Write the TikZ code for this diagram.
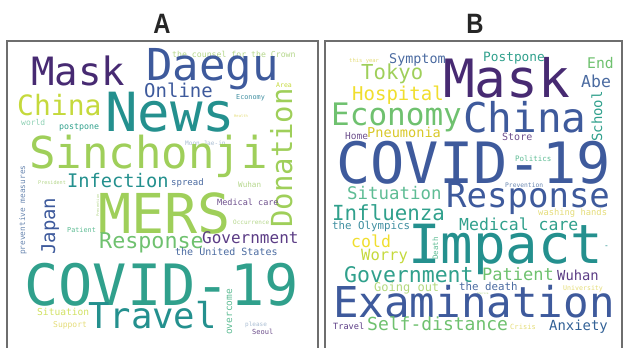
\documentclass[tikz,border=0pt]{standalone}
\usepackage{fontspec}
\setmainfont{Liberation Sans}
\newfontfamily\cloudfont{DejaVu Sans Mono}
\usetikzlibrary{positioning}

% viridis-like palette
\definecolor{vdark}{HTML}{472A72}
\definecolor{vpurple}{HTML}{5B3C85}
\definecolor{vlilac}{HTML}{6D4F8C}
\definecolor{vblue}{HTML}{3E5A9C}
\definecolor{vbluem}{HTML}{4A6AA0}
\definecolor{vbluel}{HTML}{6A87B0}
\definecolor{vpale}{HTML}{A8BCD2}
\definecolor{vtealb}{HTML}{3F8EA0}
\definecolor{vteal}{HTML}{24908E}
\definecolor{vtealg}{HTML}{30A08C}
\definecolor{vmint}{HTML}{5EBC94}
\definecolor{vgreen}{HTML}{6FC16F}
\definecolor{vgreenl}{HTML}{9FCF5A}
\definecolor{vsage}{HTML}{B4D68A}
\definecolor{vyg}{HTML}{C5D93C}
\definecolor{vyellow}{HTML}{F0DE2E}
\definecolor{vcream}{HTML}{E4DC78}
\definecolor{frame}{HTML}{6E6E6E}

\tikzset{
    word/.style={inner sep=0pt, anchor=base west,
        font=\cloudfont\fontsize{#1}{#1}\selectfont},
    up/.style={rotate=90},
    panel/.style={draw=frame, line width=1.2pt},
    title/.style={anchor=base, text=black!85, xscale=0.85,
        font=\bfseries\fontsize{28}{28}\selectfont}
}

\begin{document}
\begin{tikzpicture}[x=1pt, y=-1pt]
    \useasboundingbox (0,0) rectangle (624,348);

    % panels
    \draw[panel] (7,352) -- (7,41) -- (318,41) -- (318,352);
    \draw[panel] (325,352) -- (325,41) -- (622,41) -- (622,352);
    \node[title] (tA) at (162,33) {A};
    \node[title] (tB) at (475,33) {B};

    % ---- panel A ----
    \node[word=8.2, text=vsage]    (a-crown)   at (172,57)  {the counsel for the Crown};
    \node[word=39, text=vdark]     (a-mask)    at (31,85)   {Mask};
    \node[word=44, text=vblue]     (a-daegu)   at (146,80)  {Daegu};
    \node[word=6.5, text=vyg]      (a-area)    at (276,87)  {Area};
    \node[word=19, text=vblue]     (a-online)  at (144,97)  {Online};
    \node[word=6.8, text=vtealb]   (a-economy) at (236,99)  {Economy};
    \node[word=28, text=vyg]       (a-china)   at (17,115)  {China};
    \node[word=54, text=vteal]     (a-news)    at (105,131) {News};
    \node[word=3.8, text=vcream]   (a-health)  at (234,117) {Health};
    \node[word=8, text=vmint!70]   (a-world)   at (21,125)  {world};
    \node[word=8.3, text=vtealg]   (a-postp)   at (59,129)  {postpone};
    \node[word=6.1, text=vpale]    (a-moon)    at (185,145) {Moon Jae-in};
    \node[word=44, text=vgreenl]   (a-sinch)   at (29,168)  {Sinchonji};
    \node[word=29, text=vgreenl, up] (a-donat) at (292,228) {Donation};
    \node[word=18.7, text=vteal]   (a-infect)  at (67,187)  {Infection};
    \node[word=5.1, text=vsage]    (a-pres)    at (38,184)  {President};
    \node[word=9, text=vbluem]     (a-spread)  at (171,185) {spread};
    \node[word=7.6, text=vsage]    (a-wuhan)   at (238,187) {Wuhan};
    \node[word=7.8, text=vbluel, up] (a-prev)  at (25,255)  {preventive measures};
    \node[word=19, text=vblue, up] (a-japan)   at (55,255)  {Japan};
    \node[word=3.7, text=vsage, up] (a-preven) at (99,217)  {Prevention};
    \node[word=55, text=vgreenl]   (a-mers)    at (98,233)  {MERS};
    \node[word=8.5, text=vlilac]   (a-medic)   at (217,205) {Medical care};
    \node[word=6, text=vsage]      (a-occur)   at (233,224) {Occurrence};
    \node[word=6.8, text=vmint]    (a-patient) at (67,232)  {Patient};
    \node[word=21.7, text=vgreen]  (a-resp)    at (99,248)  {Response};
    \node[word=16, text=vpurple]   (a-gov)     at (202,243) {Government};
    \node[word=10, text=vbluem]    (a-us)      at (175,255) {the United States};
    \node[word=57, text=vtealg]    (a-covid)   at (24,305)  {COVID-19};
    \node[word=35.6, text=vteal]   (a-travel)  at (88,328)  {Travel};
    \node[word=9.6, text=vyg!80]   (a-situ)    at (37,315)  {Situation};
    \node[word=8, text=vcream]     (a-support) at (53,327)  {Support};
    \node[word=9.5, text=vmint, up] (a-overc)  at (232,335) {overcome};
    \node[word=6, text=vpale]      (a-please)  at (245,326) {please};
    \node[word=7, text=vlilac]     (a-seoul)   at (252,334) {Seoul};

    % ---- panel B ----
    \node[word=5.5, text=vcream]   (b-year)    at (349,62)  {this year};
    \node[word=13.4, text=vbluem]  (b-sympt)   at (389,63)  {Symptom};
    \node[word=12.8, text=vtealg]  (b-postp)   at (483,61)  {Postpone};
    \node[word=14.7, text=vgreen]  (b-end)     at (587,68)  {End};
    \node[word=20.6, text=vgreenl] (b-tokyo)   at (361,79)  {Tokyo};
    \node[word=52.8, text=vdark]   (b-mask)    at (443,97)  {Mask};
    \node[word=16.5, text=vbluem]  (b-abe)     at (581,87)  {Abe};
    \node[word=19, text=vyellow]   (b-hosp)    at (352,100) {Hospital};
    \node[word=31, text=vgreen]    (b-econ)    at (331,125) {Economy};
    \node[word=41, text=vblue]     (b-china)   at (463,132) {China};
    \node[word=14, text=vtealg, up] (b-school) at (602,142) {School};
    \node[word=9.5, text=vlilac]   (b-home)    at (345,139) {Home};
    \node[word=13.6, text=vyellow!90!black] (b-pneu) at (367,137) {Pneumonia};
    \node[word=10, text=vlilac]    (b-store)   at (502,140) {Store};
    \node[word=57, text=vblue]     (b-covid)   at (336,183) {COVID-19};
    \node[word=7.5, text=vmint]    (b-polit)   at (515,161) {Politics};
    \node[word=6.3, text=vbluel]   (b-preven)  at (505,187) {Prevention};
    \node[word=17.4, text=vmint]   (b-situ)    at (347,199) {Situation};
    \node[word=34, text=vblue]     (b-resp)    at (446,207) {Response};
    \node[word=8.8, text=vcream]   (b-wash)    at (538,215) {washing hands};
    \node[word=20.8, text=vtealg]  (b-influ)   at (332,220) {Influenza};
    \node[word=10.8, text=vtealb]  (b-olymp)   at (332,229) {the Olympics};
    \node[word=16.5, text=vtealg]  (b-medic)   at (459,230) {Medical care};
    \node[word=54, text=vteal]     (b-impact)  at (408,263) {Impact};
    \node[word=16.5, text=vyellow] (b-cold)    at (351,247) {cold};
    \node[word=15.5, text=vyg]     (b-worry)   at (361,260) {Worry};
    \node[word=7.5, text=vmint, up] (b-death)  at (438,260) {Death};
    \node[word=8, text=vteal]      (b-dash)    at (604,248) {-};
    \node[word=21.5, text=vtealg]  (b-gov)     at (344,282) {Government};
    \node[word=17, text=vgreen]    (b-patient) at (482,280) {Patient};
    \node[word=13.8, text=vpurple] (b-wuhan)   at (557,280) {Wuhan};
    \node[word=12, text=vgreenl!80] (b-going)  at (374,291) {Going out};
    \node[word=12, text=vblue]     (b-dot1)    at (444,290) {.};
    \node[word=10.8, text=vbluem]  (b-tdeath)  at (459,290) {the death};
    \node[word=2.7, text=vsage]    (b-amer)    at (477,294) {America};
    \node[word=12, text=vblue]     (b-dot2)    at (546,290) {.};
    \node[word=6.6, text=vcream]   (b-univ)    at (563,290) {University};
    \node[word=42.5, text=vblue]   (b-exam)    at (333,317) {Examination};
    \node[word=8.6, text=vpurple]  (b-travel)  at (333,329) {Travel};
    \node[word=18, text=vgreen]    (b-selfd)   at (367,330) {Self-distance};
    \node[word=7.1, text=vcream]   (b-crisis)  at (510,329) {Crisis};
    \node[word=13.9, text=vblue!80!teal] (b-anx) at (549,330) {Anxiety};
\end{tikzpicture}
\end{document}
